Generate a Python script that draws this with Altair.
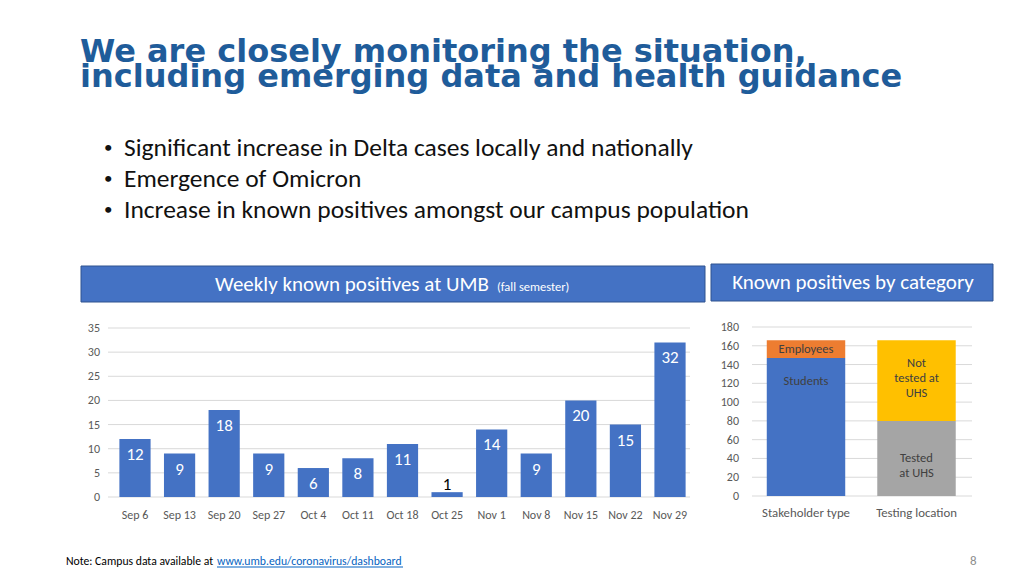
import altair as alt
import pandas as pd

# ---------------- data ----------------
weeks = ["Sep 6", "Sep 13", "Sep 20", "Sep 27", "Oct 4", "Oct 11", "Oct 18",
         "Oct 25", "Nov 1", "Nov 8", "Nov 15", "Nov 22", "Nov 29"]
weekly_positives = [12, 9, 18, 9, 6, 8, 11, 1, 14, 9, 20, 15, 32]
left_ticks = [0, 5, 10, 15, 20, 25, 30, 35]

groups = ["Stakeholder type", "Stakeholder type", "Testing location", "Testing location"]
segments = ["Students", "Employees", "Tested at UHS", "Not tested at UHS"]
segment_labels = ["Students", "Employees", "Tested\nat UHS", "Not\ntested at\nUHS"]
segment_values = [147, 19, 80, 86]
segment_colors = ["#4472C4", "#ED7D31", "#A5A5A5", "#FFC000"]
right_ticks = [0, 20, 40, 60, 80, 100, 120, 140, 160, 180]

title_text = "We are closely monitoring the situation,\nincluding emerging data and health guidance"
bullets = ["Significant increase in Delta cases locally and nationally",
           "Emergence of Omicron",
           "Increase in known positives amongst our campus population"]

BODY = "Carlito, Lato, sans-serif"
AXIS_GRAY = "#595959"

weekly = pd.DataFrame({"week": weeks, "value": weekly_positives})
lticks = pd.DataFrame({"tick": left_ticks})
cat = pd.DataFrame({"group": groups, "segment": segments, "label": segment_labels,
                    "value": segment_values, "order": list(range(len(segments)))})
rticks = pd.DataFrame({"tick": right_ticks})
grp = pd.DataFrame({"group": ["Stakeholder type", "Testing location"]})

# ---------------- scales (pixel ranges inside the 1008x560 canvas) ----------------
lx = alt.Scale(domain=weeks, range=[104.7, 684.3], paddingInner=0.3, paddingOuter=0.15)
ly = alt.Scale(domain=[0, 35], range=[489, 320], nice=False, zero=True)
rx = alt.Scale(domain=["Stakeholder type", "Testing location"], range=[742.75, 963.75],
               paddingInner=0.29, paddingOuter=0.145)
ry = alt.Scale(domain=[0, 180], range=[488, 319], nice=False, zero=True)


def txt(s, x, y, **kw):
    return alt.Chart(pd.DataFrame({"t": [s]})).mark_text(**kw).encode(
        text="t:N", x=alt.value(x), y=alt.value(y))


layers = []

# slide title (one two-line text)
layers.append(txt(title_text, 72, 54, font="DejaVu Sans", fontWeight="bold",
                  fontSize=32, color="#1F5C9A", align="left", baseline="alphabetic",
                  lineBreak="\n", lineHeight=25))

# bullets
for i, b in enumerate(bullets):
    yy = 140 + 31 * i
    layers.append(txt("\u2022", 96, yy, font=BODY, fontSize=17, color="#111111",
                      align="left", baseline="middle"))
    layers.append(txt(b, 116, yy, font=BODY, fontSize=25.5, color="#111111",
                      align="left", baseline="middle"))

# header boxes
box = lambda x, x2, y, y2: alt.Chart(pd.DataFrame({"a": [0]})).mark_rect(
    color="#4472C4", stroke="#2F528F", strokeWidth=1).encode(
    x=alt.value(x), x2=alt.value(x2), y=alt.value(y), y2=alt.value(y2))
layers.append(box(73, 697, 258, 294))
layers.append(box(703, 985, 256, 293))
layers.append(txt("Weekly known positives at UMB", 207, 283, font=BODY, fontSize=21,
                  color="white", align="left", baseline="alphabetic"))
layers.append(txt("(fall semester)", 489, 283, font=BODY, fontSize=12.5,
                  color="white", align="left", baseline="alphabetic"))
layers.append(txt("Known positives by category", 845, 275, font=BODY, fontSize=21,
                  color="white", align="center", baseline="middle"))

# ---------------- left chart ----------------
layers.append(alt.Chart(lticks).mark_rule(color="#D9D9D9", strokeWidth=1).encode(
    y=alt.Y("tick:Q", scale=ly, axis=None), x=alt.value(100), x2=alt.value(682)))
layers.append(alt.Chart(lticks).mark_text(font=BODY, fontSize=12, color=AXIS_GRAY,
                                          align="right", baseline="middle").encode(
    y=alt.Y("tick:Q", scale=ly, axis=None), x=alt.value(92), text="tick:Q"))
layers.append(alt.Chart(weekly).mark_bar(color="#4472C4").encode(
    x=alt.X("week:N", scale=lx, axis=None, sort=weeks),
    y=alt.Y("value:Q", scale=ly, axis=None), y2=alt.datum(0)))
layers.append(alt.Chart(weekly).transform_filter("datum.value >= 3").mark_text(
    font=BODY, fontSize=17, color="white", baseline="middle", dy=16).encode(
    x=alt.X("week:N", scale=lx, axis=None, sort=weeks),
    y=alt.Y("value:Q", scale=ly, axis=None), text="value:Q"))
layers.append(alt.Chart(weekly).transform_filter("datum.value < 3").mark_text(
    font=BODY, fontSize=17, color="black", baseline="middle", dy=-7).encode(
    x=alt.X("week:N", scale=lx, axis=None, sort=weeks),
    y=alt.Y("value:Q", scale=ly, axis=None), text="value:Q"))
layers.append(alt.Chart(weekly).mark_text(font=BODY, fontSize=12, color=AXIS_GRAY,
                                          baseline="middle").encode(
    x=alt.X("week:N", scale=lx, axis=None, sort=weeks), y=alt.value(507), text="week:N"))

# ---------------- right chart ----------------
layers.append(alt.Chart(rticks).mark_rule(color="#D9D9D9", strokeWidth=1).encode(
    y=alt.Y("tick:Q", scale=ry, axis=None), x=alt.value(744), x2=alt.value(964)))
layers.append(alt.Chart(rticks).mark_text(font=BODY, fontSize=12, color=AXIS_GRAY,
                                          align="right", baseline="middle").encode(
    y=alt.Y("tick:Q", scale=ry, axis=None), x=alt.value(731), text="tick:Q"))
layers.append(alt.Chart(cat).mark_bar().encode(
    x=alt.X("group:N", scale=rx, axis=None),
    y=alt.Y("value:Q", scale=ry, axis=None, stack="zero"),
    color=alt.Color("segment:N", scale=alt.Scale(domain=segments, range=segment_colors),
                    legend=None),
    order=alt.Order("order:Q")))

stacked = alt.Chart(cat).transform_stack(
    stack="value", groupby=["group"], as_=["y0", "y1"],
    sort=[alt.SortField("order", order="ascending")]).transform_calculate(
    mid="(datum.y0 + datum.y1) / 2")
layers.append(stacked.transform_filter(
    "datum.segment == 'Students' || datum.segment == 'Not tested at UHS'").mark_text(
    font=BODY, fontSize=12.5, color="#404040", baseline="top", dy=17, lineBreak="\n",
    lineHeight=15).encode(
    x=alt.X("group:N", scale=rx, axis=None),
    y=alt.Y("y1:Q", scale=ry, axis=None), text="label:N"))
layers.append(stacked.transform_filter(
    "datum.segment == 'Employees' || datum.segment == 'Tested at UHS'").mark_text(
    font=BODY, fontSize=12.5, color="#404040", baseline="middle", lineBreak="\n",
    lineHeight=15).encode(
    x=alt.X("group:N", scale=rx, axis=None),
    y=alt.Y("mid:Q", scale=ry, axis=None), text="label:N"))
layers.append(alt.Chart(grp).mark_text(font=BODY, fontSize=12.8, color=AXIS_GRAY,
                                       baseline="middle").encode(
    x=alt.X("group:N", scale=rx, axis=None), y=alt.value(505), text="group:N"))

# ---------------- footer ----------------
layers.append(txt("Note: Campus data available at", 58, 553, font=BODY, fontSize=11.7,
                  color="black", align="left", baseline="middle"))
layers.append(txt("www.umb.edu/coronavirus/dashboard", 209, 553, font=BODY, fontSize=11.7,
                  color="#0563C1", align="left", baseline="middle"))
layers.append(alt.Chart(pd.DataFrame({"a": [0]})).mark_rule(color="#0563C1").encode(
    x=alt.value(209), x2=alt.value(395), y=alt.value(559)))
layers.append(txt("8", 962, 553, font=BODY, fontSize=13, color="#8C8C8C",
                  align="left", baseline="middle"))

chart = alt.layer(*layers).resolve_scale(
    x="independent", y="independent", color="independent"
).properties(
    width=1008, height=560, autosize=alt.AutoSizeParams(type="none"), padding=0,
    background="white"
).configure_view(stroke=None)

chart.save("out.html", embed_options={"renderer": "svg", "actions": False})
